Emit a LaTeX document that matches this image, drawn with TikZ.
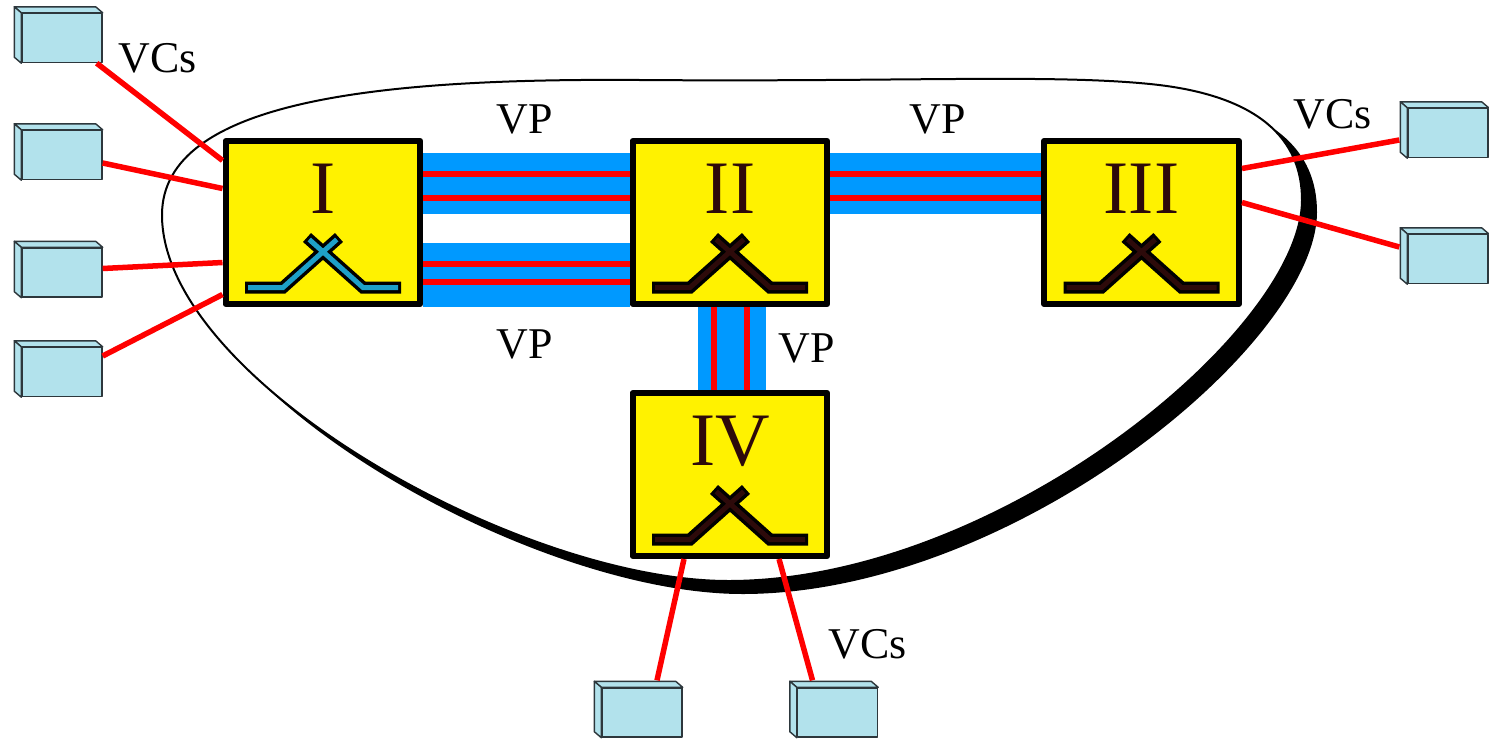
\documentclass[tikz,border=0pt]{standalone}
\usepackage{fontspec}
\setmainfont{Liberation Serif}
\usetikzlibrary{calc}
\definecolor{vpblue}{RGB}{0,153,255}
\definecolor{termblue}{RGB}{178,226,236}
\definecolor{termline}{RGB}{45,55,60}
\definecolor{numbrown}{RGB}{45,10,10}
\definecolor{icocyan}{RGB}{30,160,200}
\tikzset{
  switchbox/.style={draw=black, fill=yellow, line width=0.12cm, minimum width=3.9cm, minimum height=3.26cm, inner sep=0pt},
  numeral/.style={font=\fontsize{43}{50}\selectfont, text=numbrown, anchor=base, inner sep=0pt},
  term/.style={draw=termline, fill=termblue, line width=0.8pt, minimum width=1.6cm, minimum height=0.98cm, inner sep=0pt},
  termface/.style={draw=termline, fill=termblue, line width=0.8pt},
  vc/.style={red, line width=0.11cm},
  vp/.style={vpblue, line width=#1},
  lbl/.style={font=\fontsize{25}{30}\selectfont, anchor=base, inner sep=0pt},
  iconout/.style={black, line width=0.24cm, line join=miter},
  iconin/.style={line width=0.1cm, line join=miter, shorten <=0.06cm, shorten >=0.06cm},
}
% switch: name, x, y, numeral, colour of the crossing
\newcommand{\atmswitch}[5]{%
  \node[switchbox] (#1) at (#2,#3) {};
  \node[numeral] (#1-num) at ($(#1.center)+(0,-9)$) {#4};
  \begin{scope}[shift={(#1.center)}]
    \foreach \s in {1,-1}
      \draw[iconout] ({-78*\s},65) -- ({-40*\s},65) -- ({16*\s},15);
    \foreach \s in {1,-1}
      \draw[iconin, #5] ({-78*\s},65) -- ({-40*\s},65) -- ({16*\s},15);
  \end{scope}}
% terminal: name, x, y
\newcommand{\terminal}[3]{%
  \node[term] (#1) at (#2,#3) {};
  \filldraw[termface] (#1.north west) -- ++(-7,-6) -- ($(#1.north east)+(-7,-6)$) -- (#1.north east) -- cycle;
  \filldraw[termface] (#1.north west) -- ++(-7,-6) -- ($(#1.south west)+(-7,-6)$) -- (#1.south west) -- cycle;}
\begin{document}
\begin{tikzpicture}[x=0.02cm, y=-0.02cm, line join=round]
  \useasboundingbox (0,0) rectangle (1489,741);
  % network boundary, with its shadow
  \foreach \dx/\dy/\col in {14/12/black, 0/0/white}
    \filldraw[fill=\col, draw=black, line width=0.04cm, shift={(\dx,\dy)}]
      (162,215) .. controls (162,100) and (380,78) .. (640,80)
      .. controls (900,82) and (1050,74) .. (1150,84)
      .. controls (1260,95) and (1302,140) .. (1302,200)
      .. controls (1302,330) and (1000,580) .. (730,581)
      .. controls (520,582) and (162,380) .. (162,215) -- cycle;
  % switches
  \atmswitch{I}{323}{222.5}{I}{icocyan}
  \atmswitch{II}{730}{222.5}{II}{numbrown}
  \atmswitch{III}{1141.5}{222.5}{III}{numbrown}
  \atmswitch{IV}{730}{474.5}{IV}{numbrown}
  % end points
  \terminal{L1}{62}{38} \terminal{L2}{62}{155} \terminal{L3}{62}{272.5} \terminal{L4}{62}{372}
  \terminal{R1}{1448}{133} \terminal{R2}{1448}{259}
  \terminal{B1}{642}{712.5} \terminal{B2}{837.5}{712.5}
  % virtual paths
  \draw[vp=1.22cm] ($(I.east)+(0,-39)$) -- ($(II.west)+(0,-39)$);
  \draw[vp=1.28cm] ($(I.east)+(0,52.5)$) -- ($(II.west)+(0,52.5)$);
  \draw[vp=1.22cm] ($(II.east)+(0,-39)$) -- ($(III.west)+(0,-39)$);
  \draw[vp=1.36cm] ($(II.south)+(2,0)$) -- ($(IV.north)+(2,0)$);
  \foreach \o in {-48.5,-24.5}{
    \draw[vc] ($(I.east)+(0,\o)$) -- ($(II.west)+(0,\o)$);
    \draw[vc] ($(II.east)+(0,\o)$) -- ($(III.west)+(0,\o)$);}
  \foreach \o in {41.5,59.5}
    \draw[vc] ($(I.east)+(0,\o)$) -- ($(II.west)+(0,\o)$);
  \foreach \o in {-16,17}
    \draw[vc] ($(II.south)+(\o,0)$) -- ($(IV.north)+(\o,0)$);
  % virtual channels to the end points
  \draw[vc] ($(L1.south east)+(-6,0)$) -- ($(I.west)+(0,-62)$);
  \draw[vc] ($(L2.east)+(0,8)$) -- ($(I.west)+(0,-34)$);
  \draw[vc] ($(L3.east)+(0,-4)$) -- ($(I.west)+(0,40)$);
  \draw[vc] ($(L4.east)+(0,-16)$) -- ($(I.west)+(0,72)$);
  \draw[vc] ($(III.east)+(0,-54)$) -- ($(R1.west)+(-8,7)$);
  \draw[vc] ($(III.east)+(0,-20)$) -- ($(R2.west)+(-8,-12)$);
  \draw[vc] ($(IV.south)+(-46,0)$) -- ($(B1.north)+(15,-7)$);
  \draw[vc] ($(IV.south)+(49,0)$) -- ($(B2.north)+(-25,-7)$);
  % labels
  \node[lbl] (vcs-l) at (158,72) {VCs};
  \node[lbl] (vcs-r) at (1333,128) {VCs};
  \node[lbl] (vcs-b) at (868,658) {VCs};
  \node[lbl] (vp-12) at (525,133) {VP};
  \node[lbl] (vp-23) at (938,133) {VP};
  \node[lbl] (vp-12b) at (525,358) {VP};
  \node[lbl] (vp-24) at (807,362) {VP};
\end{tikzpicture}
\end{document}
